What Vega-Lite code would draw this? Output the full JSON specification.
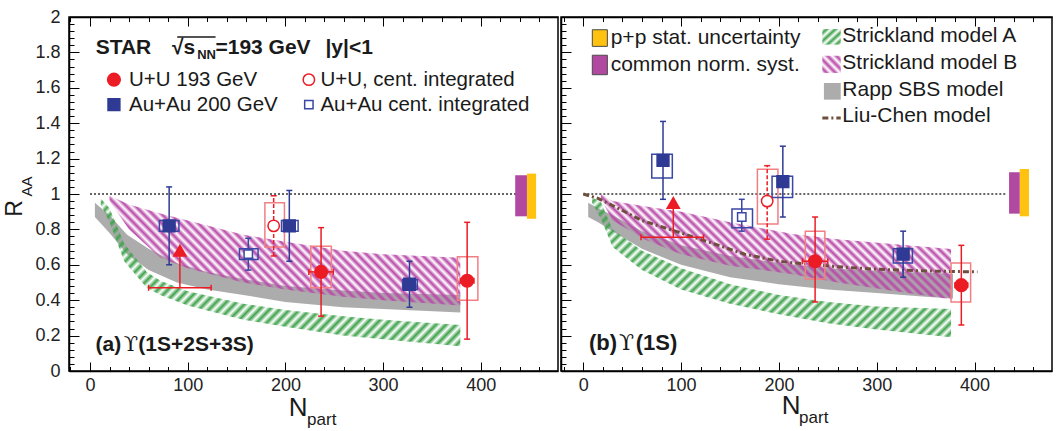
{
"$schema": "https://vega.github.io/schema/vega-lite/v6.json",
"padding": {"left": 3, "top": 7, "right": 0, "bottom": 0},
"spacing": 0,
"config": {
 "font": "Liberation Sans",
 "view": {"stroke": "#000", "strokeWidth": 1.5},
 "axis": {"domainColor": "#000", "domainWidth": 1.5, "tickColor": "#000", "tickWidth": 1, "labelFontSize": 18, "labelColor": "#222", "grid": false, "labelFont": "Liberation Sans", "title": null}
},
"datasets": {
 "bands": [
  {"panel":"a","model":"rapp","x":5,"lo":0.87,"hi":0.95},{"panel":"a","model":"rapp","x":20,"lo":0.78,"hi":0.88},{"panel":"a","model":"rapp","x":38,"lo":0.66,"hi":0.77},{"panel":"a","model":"rapp","x":60,"lo":0.57,"hi":0.69},{"panel":"a","model":"rapp","x":89,"lo":0.5,"hi":0.61},{"panel":"a","model":"rapp","x":120,"lo":0.46,"hi":0.56},{"panel":"a","model":"rapp","x":157,"lo":0.43,"hi":0.52},{"panel":"a","model":"rapp","x":200,"lo":0.39,"hi":0.48},{"panel":"a","model":"rapp","x":259,"lo":0.36,"hi":0.455},{"panel":"a","model":"rapp","x":300,"lo":0.35,"hi":0.44},{"panel":"a","model":"rapp","x":379,"lo":0.33,"hi":0.43},
  {"panel":"a","model":"A","x":11,"lo":0.94,"hi":0.975},{"panel":"a","model":"A","x":20,"lo":0.84,"hi":0.92},{"panel":"a","model":"A","x":35,"lo":0.62,"hi":0.72},{"panel":"a","model":"A","x":58,"lo":0.47,"hi":0.56},{"panel":"a","model":"A","x":72,"lo":0.43,"hi":0.51},{"panel":"a","model":"A","x":100,"lo":0.37,"hi":0.45},{"panel":"a","model":"A","x":157,"lo":0.29,"hi":0.38},{"panel":"a","model":"A","x":200,"lo":0.25,"hi":0.345},{"panel":"a","model":"A","x":259,"lo":0.2,"hi":0.31},{"panel":"a","model":"A","x":300,"lo":0.18,"hi":0.29},{"panel":"a","model":"A","x":379,"lo":0.14,"hi":0.26},
  {"panel":"a","model":"B","x":20,"lo":0.96,"hi":0.99},{"panel":"a","model":"B","x":40,"lo":0.8,"hi":0.94},{"panel":"a","model":"B","x":72,"lo":0.64,"hi":0.89},{"panel":"a","model":"B","x":100,"lo":0.58,"hi":0.85},{"panel":"a","model":"B","x":157,"lo":0.5,"hi":0.77},{"panel":"a","model":"B","x":200,"lo":0.46,"hi":0.73},{"panel":"a","model":"B","x":259,"lo":0.42,"hi":0.68},{"panel":"a","model":"B","x":300,"lo":0.4,"hi":0.66},{"panel":"a","model":"B","x":379,"lo":0.37,"hi":0.64},
  {"panel":"b","model":"rapp","x":5,"lo":0.87,"hi":0.95},{"panel":"b","model":"rapp","x":15,"lo":0.84,"hi":0.92},{"panel":"b","model":"rapp","x":30,"lo":0.79,"hi":0.88},{"panel":"b","model":"rapp","x":60,"lo":0.69,"hi":0.79},{"panel":"b","model":"rapp","x":100,"lo":0.6,"hi":0.71},{"panel":"b","model":"rapp","x":150,"lo":0.53,"hi":0.65},{"panel":"b","model":"rapp","x":200,"lo":0.49,"hi":0.61},{"panel":"b","model":"rapp","x":250,"lo":0.46,"hi":0.58},{"panel":"b","model":"rapp","x":300,"lo":0.44,"hi":0.565},{"panel":"b","model":"rapp","x":350,"lo":0.42,"hi":0.555},{"panel":"b","model":"rapp","x":378,"lo":0.41,"hi":0.55},
  {"panel":"b","model":"A","x":9,"lo":0.95,"hi":0.98},{"panel":"b","model":"A","x":18,"lo":0.86,"hi":0.955},{"panel":"b","model":"A","x":30,"lo":0.7,"hi":0.8},{"panel":"b","model":"A","x":60,"lo":0.57,"hi":0.68},{"panel":"b","model":"A","x":100,"lo":0.46,"hi":0.58},{"panel":"b","model":"A","x":150,"lo":0.38,"hi":0.49},{"panel":"b","model":"A","x":200,"lo":0.32,"hi":0.43},{"panel":"b","model":"A","x":250,"lo":0.27,"hi":0.39},{"panel":"b","model":"A","x":300,"lo":0.235,"hi":0.365},{"panel":"b","model":"A","x":376,"lo":0.19,"hi":0.35},
  {"panel":"b","model":"B","x":18,"lo":0.97,"hi":1.0},{"panel":"b","model":"B","x":30,"lo":0.85,"hi":0.96},{"panel":"b","model":"B","x":64,"lo":0.74,"hi":0.93},{"panel":"b","model":"B","x":100,"lo":0.66,"hi":0.9},{"panel":"b","model":"B","x":150,"lo":0.595,"hi":0.84},{"panel":"b","model":"B","x":214,"lo":0.547,"hi":0.774},{"panel":"b","model":"B","x":260,"lo":0.5,"hi":0.745},{"panel":"b","model":"B","x":316,"lo":0.453,"hi":0.717},{"panel":"b","model":"B","x":376,"lo":0.406,"hi":0.689}
 ],
 "lc": [
  {"x":0,"y":1.0},{"x":15,"y":0.975},{"x":30,"y":0.935},{"x":60,"y":0.85},{"x":100,"y":0.78},{"x":130,"y":0.725},{"x":165,"y":0.66},{"x":200,"y":0.62},{"x":235,"y":0.6},{"x":270,"y":0.585},{"x":300,"y":0.575},{"x":350,"y":0.565},{"x":403,"y":0.56}
 ],
 "ones": [{"panel":"a","x":0,"x2":436,"y":1},{"panel":"b","x":0,"x2":432,"y":1}],
 "ovl": [{"x":89.3,"x2":128.5,"y":1.887}],
 "norm": [
  {"panel":"a","kind":"pp","x1":447.2,"x2":456.6,"y1":0.86,"y2":1.115},
  {"panel":"a","kind":"norm","x1":435.2,"x2":447.2,"y1":0.874,"y2":1.106},
  {"panel":"b","kind":"pp","x1":446.2,"x2":455.7,"y1":0.874,"y2":1.141},
  {"panel":"b","kind":"norm","x1":435.3,"x2":446.2,"y1":0.889,"y2":1.123},
  {"panel":"b","kind":"pp","leg":1,"x1":9.2,"x2":24.6,"y1":1.834,"y2":1.928},
  {"panel":"b","kind":"norm","leg":1,"x1":9.2,"x2":24.6,"y1":1.674,"y2":1.784}
 ],
 "icons": [
  {"m":"A","x1":244.4,"x2":263.2,"y1":1.844,"y2":1.932},
  {"m":"B","x1":244.4,"x2":263.2,"y1":1.684,"y2":1.781},
  {"m":"rapp","x1":246,"x2":263.2,"y1":1.533,"y2":1.627},
  {"m":"lc","x1":244.4,"x2":263.2,"y1":1.429,"y2":1.429}
 ],
 "pts": [
  {"panel":"a","kind":"AuAu","x":81,"y":0.82,"ylo":0.6,"yhi":1.04,"bx1":71,"bx2":91,"by1":0.79,"by2":0.85},
  {"panel":"a","kind":"AuAu","x":204,"y":0.82,"ylo":0.62,"yhi":1.02,"bx1":196,"bx2":213,"by1":0.79,"by2":0.85},
  {"panel":"a","kind":"AuAu","x":327,"y":0.49,"ylo":0.36,"yhi":0.62,"bx1":320,"bx2":335,"by1":0.46,"by2":0.515},
  {"panel":"a","kind":"AuAuint","x":162,"y":0.66,"ylo":0.57,"yhi":0.75,"bx1":153,"bx2":172,"by1":0.63,"by2":0.69},
  {"panel":"a","kind":"UUint","x":188,"y":0.82,"ylo":0.65,"yhi":0.99,"bx1":179,"bx2":199,"by1":0.7,"by2":0.95},
  {"panel":"a","kind":"UU","x":236.5,"y":0.56,"ylo":0.31,"yhi":0.81,"bx1":226,"bx2":247,"by1":0.47,"by2":0.705,"xlo":224,"xhi":249,"hy":0.56},
  {"panel":"a","kind":"UU","x":386,"y":0.51,"ylo":0.18,"yhi":0.84,"bx1":376,"bx2":397,"by1":0.4,"by2":0.645,"xlo":379,"xhi":393,"hy":0.51},
  {"panel":"a","kind":"lim","x":92,"y":0.68,"ylo":0.47,"yhi":0.66,"xlo":60,"xhi":124,"hy":0.47},
  {"panel":"a","kind":"UU","x":24.5,"y":1.646},
  {"panel":"a","kind":"AuAu","x":24.5,"y":1.505},
  {"panel":"a","kind":"UUint","x":224,"y":1.646},
  {"panel":"a","kind":"AuAuint","x":224,"y":1.505},
  {"panel":"b","kind":"AuAu","x":81.5,"y":1.19,"ylo":0.97,"yhi":1.41,"bx1":70,"bx2":91,"by1":1.09,"by2":1.225},
  {"panel":"b","kind":"AuAu","x":204,"y":1.07,"ylo":0.87,"yhi":1.27,"bx1":193,"bx2":214,"by1":0.98,"by2":1.1},
  {"panel":"b","kind":"AuAu","x":327,"y":0.66,"ylo":0.53,"yhi":0.79,"bx1":317,"bx2":336.5,"by1":0.61,"by2":0.69},
  {"panel":"b","kind":"AuAuint","x":162,"y":0.87,"ylo":0.79,"yhi":0.97,"bx1":152,"bx2":173,"by1":0.81,"by2":0.915},
  {"panel":"b","kind":"UUint","x":188,"y":0.96,"ylo":0.745,"yhi":1.16,"bx1":178,"bx2":199,"by1":0.83,"by2":1.14},
  {"panel":"b","kind":"UU","x":237,"y":0.62,"ylo":0.39,"yhi":0.87,"bx1":227,"bx2":247,"by1":0.52,"by2":0.79,"xlo":224,"xhi":250,"hy":0.62},
  {"panel":"b","kind":"UU","x":386.5,"y":0.485,"ylo":0.26,"yhi":0.71,"bx1":376,"bx2":396,"by1":0.39,"by2":0.61,"xlo":380,"xhi":393,"hy":0.485},
  {"panel":"b","kind":"lim","x":92,"y":0.95,"ylo":0.755,"yhi":0.93,"xlo":59,"xhi":123,"hy":0.755}
 ],
 "txt": [
  {"panel":"a","role":"head","x":5.8,"y":1.825,"t":"STAR"},
  {"panel":"a","role":"head","x":84,"y":1.825,"t":"√s"},
  {"panel":"a","role":"sub","x":109.7,"y":1.787,"t":"NN"},
  {"panel":"a","role":"head","x":128.4,"y":1.825,"t":"=193 GeV"},
  {"panel":"a","role":"head","x":241,"y":1.825,"t":"|y|<1"},
  {"panel":"a","role":"lab","x":5.6,"y":0.145,"t":"(a)"},
  {"panel":"a","role":"lab","x":49.4,"y":0.145,"t":"(1S+2S+3S)"},
  {"panel":"a","role":"ups","x":34.5,"y":0.145,"t":"ϒ"},
  {"panel":"a","role":"leg","x":39.9,"y":1.646,"t":"U+U 193 GeV"},
  {"panel":"a","role":"leg","x":39.9,"y":1.505,"t":"Au+Au 200 GeV"},
  {"panel":"a","role":"leg","x":235.8,"y":1.646,"t":"U+U, cent. integrated"},
  {"panel":"a","role":"leg","x":235.8,"y":1.505,"t":"Au+Au cent. integrated"},
  {"panel":"a","role":"ax","x":203.5,"y":-0.21,"t":"N"},
  {"panel":"a","role":"axsub","x":222.2,"y":-0.275,"t":"part"},
  {"panel":"a","role":"R","x":-76.9,"y":0.918,"t":"R"},
  {"panel":"a","role":"Rsub","x":-64.1,"y":1.042,"t":"AA"},
  {"panel":"b","role":"lab","x":5.8,"y":0.158,"t":"(b)"},
  {"panel":"b","role":"lab","x":53.6,"y":0.158,"t":"(1S)"},
  {"panel":"b","role":"ups","x":36.5,"y":0.158,"t":"ϒ"},
  {"panel":"b","role":"leg","x":28,"y":1.881,"t":"p+p stat. uncertainty"},
  {"panel":"b","role":"leg","x":28,"y":1.731,"t":"common norm. syst."},
  {"panel":"b","role":"leg","x":264.8,"y":1.891,"t":"Strickland model A"},
  {"panel":"b","role":"leg","x":264.8,"y":1.74,"t":"Strickland model B"},
  {"panel":"b","role":"leg","x":264.8,"y":1.586,"t":"Rapp SBS model"},
  {"panel":"b","role":"leg","x":264.8,"y":1.439,"t":"Liu-Chen model"},
  {"panel":"b","role":"ax","x":202.9,"y":-0.2,"t":"N"},
  {"panel":"b","role":"axsub","x":220.6,"y":-0.268,"t":"part"}
 ]
},
"hconcat": [
 {
  "width": 489, "height": 354,
  "resolve": {"axis": {"x": "independent", "y": "independent"}, "scale": {"size": "independent"}},
  "layer": [
   {"data": {"name": "bands"}, "transform": [{"filter": "datum.panel==='a' && datum.model==='rapp'"}],
    "mark": {"type": "area", "fill": "#9e9e9e", "opacity": 0.85},
    "encoding": {
     "x": {"field": "x", "type": "quantitative", "scale": {"domain": [-21.5, 479], "nice": false, "zero": false},
       "axis": {"orient": "bottom", "values": [0,100,200,300,400], "tickSize": -9, "format": "d", "labelPadding": 14, "labelOverlap": false, "labelFlush": false}},
     "y": {"field": "lo", "type": "quantitative", "scale": {"domain": [0, 2], "nice": false, "zero": false},
       "axis": {"orient": "left", "values": [0,0.2,0.4,0.6,0.8,1,1.2,1.4,1.6,1.8,2], "tickSize": -10, "format": "~g", "labelPadding": 19, "labelOverlap": false, "labelFlush": false}},
     "y2": {"field": "hi"}}},
   {"data": {"name": "bands"}, "transform": [{"filter": "datum.panel==='a' && datum.model==='A'"}],
    "mark": {"type": "area", "fill": {"gradient": "linear", "x1": 0, "y1": 0, "x2": 1.2068, "y2": 0.4827, "stops": [
{"offset":0,"color":"#3fa24c00"},{"offset":0.01,"color":"#3fa24c"},{"offset":0.02,"color":"#3fa24c00"},{"offset":0.03,"color":"#3fa24c"},{"offset":0.04,"color":"#3fa24c00"},{"offset":0.05,"color":"#3fa24c"},{"offset":0.06,"color":"#3fa24c00"},{"offset":0.07,"color":"#3fa24c"},{"offset":0.08,"color":"#3fa24c00"},{"offset":0.09,"color":"#3fa24c"},
{"offset":0.1,"color":"#3fa24c00"},{"offset":0.11,"color":"#3fa24c"},{"offset":0.12,"color":"#3fa24c00"},{"offset":0.13,"color":"#3fa24c"},{"offset":0.14,"color":"#3fa24c00"},{"offset":0.15,"color":"#3fa24c"},{"offset":0.16,"color":"#3fa24c00"},{"offset":0.17,"color":"#3fa24c"},{"offset":0.18,"color":"#3fa24c00"},{"offset":0.19,"color":"#3fa24c"},
{"offset":0.2,"color":"#3fa24c00"},{"offset":0.21,"color":"#3fa24c"},{"offset":0.22,"color":"#3fa24c00"},{"offset":0.23,"color":"#3fa24c"},{"offset":0.24,"color":"#3fa24c00"},{"offset":0.25,"color":"#3fa24c"},{"offset":0.26,"color":"#3fa24c00"},{"offset":0.27,"color":"#3fa24c"},{"offset":0.28,"color":"#3fa24c00"},{"offset":0.29,"color":"#3fa24c"},
{"offset":0.3,"color":"#3fa24c00"},{"offset":0.31,"color":"#3fa24c"},{"offset":0.32,"color":"#3fa24c00"},{"offset":0.33,"color":"#3fa24c"},{"offset":0.34,"color":"#3fa24c00"},{"offset":0.35,"color":"#3fa24c"},{"offset":0.36,"color":"#3fa24c00"},{"offset":0.37,"color":"#3fa24c"},{"offset":0.38,"color":"#3fa24c00"},{"offset":0.39,"color":"#3fa24c"},
{"offset":0.4,"color":"#3fa24c00"},{"offset":0.41,"color":"#3fa24c"},{"offset":0.42,"color":"#3fa24c00"},{"offset":0.43,"color":"#3fa24c"},{"offset":0.44,"color":"#3fa24c00"},{"offset":0.45,"color":"#3fa24c"},{"offset":0.46,"color":"#3fa24c00"},{"offset":0.47,"color":"#3fa24c"},{"offset":0.48,"color":"#3fa24c00"},{"offset":0.49,"color":"#3fa24c"},
{"offset":0.5,"color":"#3fa24c00"},{"offset":0.51,"color":"#3fa24c"},{"offset":0.52,"color":"#3fa24c00"},{"offset":0.53,"color":"#3fa24c"},{"offset":0.54,"color":"#3fa24c00"},{"offset":0.55,"color":"#3fa24c"},{"offset":0.56,"color":"#3fa24c00"},{"offset":0.57,"color":"#3fa24c"},{"offset":0.58,"color":"#3fa24c00"},{"offset":0.59,"color":"#3fa24c"},
{"offset":0.6,"color":"#3fa24c00"},{"offset":0.61,"color":"#3fa24c"},{"offset":0.62,"color":"#3fa24c00"},{"offset":0.63,"color":"#3fa24c"},{"offset":0.64,"color":"#3fa24c00"},{"offset":0.65,"color":"#3fa24c"},{"offset":0.66,"color":"#3fa24c00"},{"offset":0.67,"color":"#3fa24c"},{"offset":0.68,"color":"#3fa24c00"},{"offset":0.69,"color":"#3fa24c"},
{"offset":0.7,"color":"#3fa24c00"},{"offset":0.71,"color":"#3fa24c"},{"offset":0.72,"color":"#3fa24c00"},{"offset":0.73,"color":"#3fa24c"},{"offset":0.74,"color":"#3fa24c00"},{"offset":0.75,"color":"#3fa24c"},{"offset":0.76,"color":"#3fa24c00"},{"offset":0.77,"color":"#3fa24c"},{"offset":0.78,"color":"#3fa24c00"},{"offset":0.79,"color":"#3fa24c"},
{"offset":0.8,"color":"#3fa24c00"},{"offset":0.81,"color":"#3fa24c"},{"offset":0.82,"color":"#3fa24c00"},{"offset":0.83,"color":"#3fa24c"},{"offset":0.84,"color":"#3fa24c00"},{"offset":0.85,"color":"#3fa24c"},{"offset":0.86,"color":"#3fa24c00"},{"offset":0.87,"color":"#3fa24c"},{"offset":0.88,"color":"#3fa24c00"},{"offset":0.89,"color":"#3fa24c"},
{"offset":0.9,"color":"#3fa24c00"},{"offset":0.91,"color":"#3fa24c"},{"offset":0.92,"color":"#3fa24c00"},{"offset":0.93,"color":"#3fa24c"},{"offset":0.94,"color":"#3fa24c00"},{"offset":0.95,"color":"#3fa24c"},{"offset":0.96,"color":"#3fa24c00"},{"offset":0.97,"color":"#3fa24c"},{"offset":0.98,"color":"#3fa24c00"},{"offset":0.99,"color":"#3fa24c"},
{"offset":1,"color":"#3fa24c00"}]}},
    "encoding": {
     "x": {"field": "x", "type": "quantitative", "scale": {"domain": [-21.5, 479], "nice": false, "zero": false},
       "axis": {"orient": "top", "labels": false, "values": [0,100,200,300,400], "tickSize": -9}},
     "y": {"field": "lo", "type": "quantitative", "scale": {"domain": [0, 2], "nice": false, "zero": false},
       "axis": {"orient": "left", "labels": false, "domain": false, "values": [0.04,0.08,0.12,0.16,0.24,0.28,0.32,0.36,0.44,0.48,0.52,0.56,0.64,0.68,0.72,0.76,0.84,0.88,0.92,0.96,1.04,1.08,1.12,1.16,1.24,1.28,1.32,1.36,1.44,1.48,1.52,1.56,1.64,1.68,1.72,1.76,1.84,1.88,1.92,1.96], "tickSize": -5}},
     "y2": {"field": "hi"}}},
   {"data": {"name": "bands"}, "transform": [{"filter": "datum.panel==='a' && datum.model==='B'"}],
    "mark": {"type": "area", "fill": {"gradient": "linear", "x1": 0, "y1": 1, "x2": 1.1946, "y2": 0.6324, "stops": [
{"offset":0,"color":"#b848a800"},{"offset":0.01,"color":"#b848a8"},{"offset":0.02,"color":"#b848a800"},{"offset":0.03,"color":"#b848a8"},{"offset":0.04,"color":"#b848a800"},{"offset":0.05,"color":"#b848a8"},{"offset":0.06,"color":"#b848a800"},{"offset":0.07,"color":"#b848a8"},{"offset":0.08,"color":"#b848a800"},{"offset":0.09,"color":"#b848a8"},
{"offset":0.1,"color":"#b848a800"},{"offset":0.11,"color":"#b848a8"},{"offset":0.12,"color":"#b848a800"},{"offset":0.13,"color":"#b848a8"},{"offset":0.14,"color":"#b848a800"},{"offset":0.15,"color":"#b848a8"},{"offset":0.16,"color":"#b848a800"},{"offset":0.17,"color":"#b848a8"},{"offset":0.18,"color":"#b848a800"},{"offset":0.19,"color":"#b848a8"},
{"offset":0.2,"color":"#b848a800"},{"offset":0.21,"color":"#b848a8"},{"offset":0.22,"color":"#b848a800"},{"offset":0.23,"color":"#b848a8"},{"offset":0.24,"color":"#b848a800"},{"offset":0.25,"color":"#b848a8"},{"offset":0.26,"color":"#b848a800"},{"offset":0.27,"color":"#b848a8"},{"offset":0.28,"color":"#b848a800"},{"offset":0.29,"color":"#b848a8"},
{"offset":0.3,"color":"#b848a800"},{"offset":0.31,"color":"#b848a8"},{"offset":0.32,"color":"#b848a800"},{"offset":0.33,"color":"#b848a8"},{"offset":0.34,"color":"#b848a800"},{"offset":0.35,"color":"#b848a8"},{"offset":0.36,"color":"#b848a800"},{"offset":0.37,"color":"#b848a8"},{"offset":0.38,"color":"#b848a800"},{"offset":0.39,"color":"#b848a8"},
{"offset":0.4,"color":"#b848a800"},{"offset":0.41,"color":"#b848a8"},{"offset":0.42,"color":"#b848a800"},{"offset":0.43,"color":"#b848a8"},{"offset":0.44,"color":"#b848a800"},{"offset":0.45,"color":"#b848a8"},{"offset":0.46,"color":"#b848a800"},{"offset":0.47,"color":"#b848a8"},{"offset":0.48,"color":"#b848a800"},{"offset":0.49,"color":"#b848a8"},
{"offset":0.5,"color":"#b848a800"},{"offset":0.51,"color":"#b848a8"},{"offset":0.52,"color":"#b848a800"},{"offset":0.53,"color":"#b848a8"},{"offset":0.54,"color":"#b848a800"},{"offset":0.55,"color":"#b848a8"},{"offset":0.56,"color":"#b848a800"},{"offset":0.57,"color":"#b848a8"},{"offset":0.58,"color":"#b848a800"},{"offset":0.59,"color":"#b848a8"},
{"offset":0.6,"color":"#b848a800"},{"offset":0.61,"color":"#b848a8"},{"offset":0.62,"color":"#b848a800"},{"offset":0.63,"color":"#b848a8"},{"offset":0.64,"color":"#b848a800"},{"offset":0.65,"color":"#b848a8"},{"offset":0.66,"color":"#b848a800"},{"offset":0.67,"color":"#b848a8"},{"offset":0.68,"color":"#b848a800"},{"offset":0.69,"color":"#b848a8"},
{"offset":0.7,"color":"#b848a800"},{"offset":0.71,"color":"#b848a8"},{"offset":0.72,"color":"#b848a800"},{"offset":0.73,"color":"#b848a8"},{"offset":0.74,"color":"#b848a800"},{"offset":0.75,"color":"#b848a8"},{"offset":0.76,"color":"#b848a800"},{"offset":0.77,"color":"#b848a8"},{"offset":0.78,"color":"#b848a800"},{"offset":0.79,"color":"#b848a8"},
{"offset":0.8,"color":"#b848a800"},{"offset":0.81,"color":"#b848a8"},{"offset":0.82,"color":"#b848a800"},{"offset":0.83,"color":"#b848a8"},{"offset":0.84,"color":"#b848a800"},{"offset":0.85,"color":"#b848a8"},{"offset":0.86,"color":"#b848a800"},{"offset":0.87,"color":"#b848a8"},{"offset":0.88,"color":"#b848a800"},{"offset":0.89,"color":"#b848a8"},
{"offset":0.9,"color":"#b848a800"},{"offset":0.91,"color":"#b848a8"},{"offset":0.92,"color":"#b848a800"},{"offset":0.93,"color":"#b848a8"},{"offset":0.94,"color":"#b848a800"},{"offset":0.95,"color":"#b848a8"},{"offset":0.96,"color":"#b848a800"},{"offset":0.97,"color":"#b848a8"},{"offset":0.98,"color":"#b848a800"},{"offset":0.99,"color":"#b848a8"},
{"offset":1,"color":"#b848a800"}]}},
    "encoding": {
     "x": {"field": "x", "type": "quantitative", "scale": {"domain": [-21.5, 479], "nice": false, "zero": false},
       "axis": {"orient": "bottom", "labels": false, "domain": false, "values": [-20,20,40,60,80,120,140,160,180,220,240,260,280,320,340,360,380,420,440,460], "tickSize": -4.5}},
     "y": {"field": "lo", "type": "quantitative", "scale": {"domain": [0, 2], "nice": false, "zero": false}, "axis": null},
     "y2": {"field": "hi"}}},
   {"data": {"name": "ones"}, "transform": [{"filter": "datum.panel==='a'"}],
    "mark": {"type": "rule", "color": "#333", "strokeDash": [2, 2], "strokeWidth": 1.3},
    "encoding": {
     "x": {"field": "x", "type": "quantitative", "scale": {"domain": [-21.5, 479], "nice": false, "zero": false},
       "axis": {"orient": "top", "labels": false, "domain": false, "values": [-20,20,40,60,80,120,140,160,180,220,240,260,280,320,340,360,380,420,440,460], "tickSize": -4.5}},
     "x2": {"field": "x2"},
     "y": {"field": "y", "type": "quantitative", "scale": {"domain": [0, 2], "nice": false, "zero": false}, "axis": null}}},
   {"data": {"name": "norm"}, "transform": [{"filter": "datum.panel==='a' && datum.kind==='pp'"}],
    "mark": {"type": "rect", "fill": "#fec20f"},
    "encoding": {
     "x": {"field": "x1", "type": "quantitative", "scale": {"domain": [-21.5, 479], "nice": false, "zero": false}, "axis": null},
     "x2": {"field": "x2"},
     "y": {"field": "y1", "type": "quantitative", "scale": {"domain": [0, 2], "nice": false, "zero": false}, "axis": null},
     "y2": {"field": "y2"}}},
   {"data": {"name": "norm"}, "transform": [{"filter": "datum.panel==='a' && datum.kind==='norm'"}],
    "mark": {"type": "rect", "fill": "#b0499f"},
    "encoding": {
     "x": {"field": "x1", "type": "quantitative", "scale": {"domain": [-21.5, 479], "nice": false, "zero": false}, "axis": null},
     "x2": {"field": "x2"},
     "y": {"field": "y1", "type": "quantitative", "scale": {"domain": [0, 2], "nice": false, "zero": false}, "axis": null},
     "y2": {"field": "y2"}}},
   {"data": {"name": "pts"}, "transform": [{"filter": "datum.panel==='a' && isValid(datum.bx1) && (datum.kind==='UU' || datum.kind==='UUint')"}],
    "mark": {"type": "rect", "filled": false, "color": "#f27f84", "strokeWidth": 1.5},
    "encoding": {
     "x": {"field": "bx1", "type": "quantitative", "scale": {"domain": [-21.5, 479], "nice": false, "zero": false}, "axis": null},
     "x2": {"field": "bx2"},
     "y": {"field": "by1", "type": "quantitative", "scale": {"domain": [0, 2], "nice": false, "zero": false}, "axis": null},
     "y2": {"field": "by2"}}},
   {"data": {"name": "pts"}, "transform": [{"filter": "datum.panel==='a' && isValid(datum.bx1) && (datum.kind==='AuAu' || datum.kind==='AuAuint')"}],
    "mark": {"type": "rect", "filled": false, "color": "#3947a5", "strokeWidth": 1.5},
    "encoding": {
     "x": {"field": "bx1", "type": "quantitative", "scale": {"domain": [-21.5, 479], "nice": false, "zero": false}, "axis": null},
     "x2": {"field": "bx2"},
     "y": {"field": "by1", "type": "quantitative", "scale": {"domain": [0, 2], "nice": false, "zero": false}, "axis": null},
     "y2": {"field": "by2"}}},
   {"data": {"name": "pts"}, "transform": [{"filter": "datum.panel==='a' && isValid(datum.ylo) && datum.kind!=='UUint'"}],
    "mark": {"type": "rule", "strokeWidth": 1.5},
    "encoding": {
     "x": {"field": "x", "type": "quantitative", "scale": {"domain": [-21.5, 479], "nice": false, "zero": false}, "axis": null},
     "y": {"field": "ylo", "type": "quantitative", "scale": {"domain": [0, 2], "nice": false, "zero": false}, "axis": null},
     "y2": {"field": "yhi"},
     "color": {"field": "kind", "type": "nominal", "scale": {"domain": ["UU","AuAu","UUint","AuAuint","lim"], "range": ["#ec1c24","#2e3a94","#ec1c24","#3947a5","#ec1c24"]}, "legend": null}}},
   {"data": {"name": "pts"}, "transform": [{"filter": "datum.panel==='a' && isValid(datum.ylo) && datum.kind==='UUint'"}],
    "mark": {"type": "rule", "strokeWidth": 1.5, "color": "#ec1c24", "strokeDash": [4, 2]},
    "encoding": {
     "x": {"field": "x", "type": "quantitative", "scale": {"domain": [-21.5, 479], "nice": false, "zero": false}, "axis": null},
     "y": {"field": "ylo", "type": "quantitative", "scale": {"domain": [0, 2], "nice": false, "zero": false}, "axis": null},
     "y2": {"field": "yhi"}}},
   {"data": {"name": "pts"}, "transform": [{"filter": "datum.panel==='a' && isValid(datum.ylo) && datum.kind!=='lim'"}],
    "mark": {"type": "tick", "orient": "horizontal", "size": 6, "thickness": 1.5, "opacity": 1},
    "encoding": {
     "x": {"field": "x", "type": "quantitative", "scale": {"domain": [-21.5, 479], "nice": false, "zero": false}, "axis": null},
     "y": {"field": "ylo", "type": "quantitative", "scale": {"domain": [0, 2], "nice": false, "zero": false}, "axis": null},
     "color": {"field": "kind", "type": "nominal", "scale": {"domain": ["UU","AuAu","UUint","AuAuint","lim"], "range": ["#ec1c24","#2e3a94","#ec1c24","#3947a5","#ec1c24"]}, "legend": null}}},
   {"data": {"name": "pts"}, "transform": [{"filter": "datum.panel==='a' && isValid(datum.yhi) && datum.kind!=='lim'"}],
    "mark": {"type": "tick", "orient": "horizontal", "size": 6, "thickness": 1.5, "opacity": 1},
    "encoding": {
     "x": {"field": "x", "type": "quantitative", "scale": {"domain": [-21.5, 479], "nice": false, "zero": false}, "axis": null},
     "y": {"field": "yhi", "type": "quantitative", "scale": {"domain": [0, 2], "nice": false, "zero": false}, "axis": null},
     "color": {"field": "kind", "type": "nominal", "scale": {"domain": ["UU","AuAu","UUint","AuAuint","lim"], "range": ["#ec1c24","#2e3a94","#ec1c24","#3947a5","#ec1c24"]}, "legend": null}}},
   {"data": {"name": "pts"}, "transform": [{"filter": "datum.panel==='a' && isValid(datum.xlo)"}],
    "mark": {"type": "rule", "strokeWidth": 1.5},
    "encoding": {
     "x": {"field": "xlo", "type": "quantitative", "scale": {"domain": [-21.5, 479], "nice": false, "zero": false}, "axis": null},
     "x2": {"field": "xhi"},
     "y": {"field": "hy", "type": "quantitative", "scale": {"domain": [0, 2], "nice": false, "zero": false}, "axis": null},
     "color": {"field": "kind", "type": "nominal", "scale": {"domain": ["UU","AuAu","UUint","AuAuint","lim"], "range": ["#ec1c24","#2e3a94","#ec1c24","#3947a5","#ec1c24"]}, "legend": null}}},
   {"data": {"name": "pts"}, "transform": [{"filter": "datum.panel==='a' && isValid(datum.xlo)"}],
    "mark": {"type": "tick", "orient": "vertical", "size": 6, "thickness": 1.5, "opacity": 1},
    "encoding": {
     "x": {"field": "xlo", "type": "quantitative", "scale": {"domain": [-21.5, 479], "nice": false, "zero": false}, "axis": null},
     "y": {"field": "hy", "type": "quantitative", "scale": {"domain": [0, 2], "nice": false, "zero": false}, "axis": null},
     "color": {"field": "kind", "type": "nominal", "scale": {"domain": ["UU","AuAu","UUint","AuAuint","lim"], "range": ["#ec1c24","#2e3a94","#ec1c24","#3947a5","#ec1c24"]}, "legend": null}}},
   {"data": {"name": "pts"}, "transform": [{"filter": "datum.panel==='a' && isValid(datum.xhi)"}],
    "mark": {"type": "tick", "orient": "vertical", "size": 6, "thickness": 1.5, "opacity": 1},
    "encoding": {
     "x": {"field": "xhi", "type": "quantitative", "scale": {"domain": [-21.5, 479], "nice": false, "zero": false}, "axis": null},
     "y": {"field": "hy", "type": "quantitative", "scale": {"domain": [0, 2], "nice": false, "zero": false}, "axis": null},
     "color": {"field": "kind", "type": "nominal", "scale": {"domain": ["UU","AuAu","UUint","AuAuint","lim"], "range": ["#ec1c24","#2e3a94","#ec1c24","#3947a5","#ec1c24"]}, "legend": null}}},
   {"data": {"name": "pts"}, "transform": [{"filter": "datum.panel==='a'"}],
    "mark": {"type": "point", "strokeWidth": 1.5, "opacity": 1},
    "encoding": {
     "x": {"field": "x", "type": "quantitative", "scale": {"domain": [-21.5, 479], "nice": false, "zero": false}, "axis": null},
     "y": {"field": "y", "type": "quantitative", "scale": {"domain": [0, 2], "nice": false, "zero": false}, "axis": null},
     "shape": {"field": "kind", "type": "nominal", "scale": {"domain": ["UU","AuAu","UUint","AuAuint","lim"], "range": ["circle","square","circle","square","triangle-up"]}, "legend": null},
     "fill": {"field": "kind", "type": "nominal", "scale": {"domain": ["UU","AuAu","UUint","AuAuint","lim"], "range": ["#ec1c24","#2e3a94","#ffffff","#ffffff","#ec1c24"]}, "legend": null},
     "stroke": {"field": "kind", "type": "nominal", "scale": {"domain": ["UU","AuAu","UUint","AuAuint","lim"], "range": ["#ec1c24","#2e3a94","#ec1c24","#3947a5","#ec1c24"]}, "legend": null},
     "size": {"field": "kind", "type": "nominal", "scale": {"type": "ordinal", "domain": ["UU","AuAu","UUint","AuAuint","lim"], "range": [160,140,130,70,150]}, "legend": null}}},
   {"data": {"name": "ovl"},
    "mark": {"type": "rule", "color": "#1a1a1a", "strokeWidth": 1.5},
    "encoding": {
     "x": {"field": "x", "type": "quantitative", "scale": {"domain": [-21.5, 479], "nice": false, "zero": false}, "axis": null},
     "x2": {"field": "x2"},
     "y": {"field": "y", "type": "quantitative", "scale": {"domain": [0, 2], "nice": false, "zero": false}, "axis": null}}},
   {"data": {"name": "txt"}, "transform": [{"filter": "datum.panel==='a' && (datum.role==='head' || datum.role==='sub' || datum.role==='lab')"}],
    "mark": {"type": "text", "fontWeight": "bold", "align": "left", "baseline": "middle", "color": "#1a1a1a"},
    "encoding": {
     "x": {"field": "x", "type": "quantitative", "scale": {"domain": [-21.5, 479], "nice": false, "zero": false}, "axis": null},
     "y": {"field": "y", "type": "quantitative", "scale": {"domain": [0, 2], "nice": false, "zero": false}, "axis": null},
     "text": {"field": "t"},
     "size": {"field": "role", "type": "nominal", "scale": {"type": "ordinal", "domain": ["head","sub","lab"], "range": [21,13,21]}, "legend": null}}},
   {"data": {"name": "txt"}, "transform": [{"filter": "datum.panel==='a' && datum.role==='ups'"}],
    "mark": {"type": "text", "font": "DejaVu Serif", "fontSize": 21, "align": "left", "baseline": "middle", "color": "#1a1a1a"},
    "encoding": {
     "x": {"field": "x", "type": "quantitative", "scale": {"domain": [-21.5, 479], "nice": false, "zero": false}, "axis": null},
     "y": {"field": "y", "type": "quantitative", "scale": {"domain": [0, 2], "nice": false, "zero": false}, "axis": null},
     "text": {"field": "t"}}},
   {"data": {"name": "txt"}, "transform": [{"filter": "datum.panel==='a' && (datum.role==='leg' || datum.role==='ax' || datum.role==='axsub')"}],
    "mark": {"type": "text", "align": "left", "baseline": "middle", "color": "#1a1a1a"},
    "encoding": {
     "x": {"field": "x", "type": "quantitative", "scale": {"domain": [-21.5, 479], "nice": false, "zero": false}, "axis": null},
     "y": {"field": "y", "type": "quantitative", "scale": {"domain": [0, 2], "nice": false, "zero": false}, "axis": null},
     "text": {"field": "t"},
     "size": {"field": "role", "type": "nominal", "scale": {"type": "ordinal", "domain": ["leg","ax","axsub"], "range": [20.5,26,17]}, "legend": null}}},
   {"data": {"name": "txt"}, "transform": [{"filter": "datum.panel==='a' && (datum.role==='R' || datum.role==='Rsub')"}],
    "mark": {"type": "text", "align": "center", "baseline": "middle", "angle": 270, "color": "#1a1a1a"},
    "encoding": {
     "x": {"field": "x", "type": "quantitative", "scale": {"domain": [-21.5, 479], "nice": false, "zero": false}, "axis": null},
     "y": {"field": "y", "type": "quantitative", "scale": {"domain": [0, 2], "nice": false, "zero": false}, "axis": null},
     "text": {"field": "t"},
     "size": {"field": "role", "type": "nominal", "scale": {"type": "ordinal", "domain": ["R","Rsub"], "range": [23,15]}, "legend": null}}}
  ]
 },
 {
  "width": 491, "height": 354,
  "resolve": {"axis": {"x": "independent", "y": "independent"}, "scale": {"size": "independent"}},
  "layer": [
   {"data": {"name": "bands"}, "transform": [{"filter": "datum.panel==='b' && datum.model==='rapp'"}],
    "mark": {"type": "area", "fill": "#9e9e9e", "opacity": 0.85},
    "encoding": {
     "x": {"field": "x", "type": "quantitative", "scale": {"domain": [-22.8, 479.2], "nice": false, "zero": false},
       "axis": {"orient": "bottom", "values": [0,100,200,300,400], "tickSize": -9, "format": "d", "labelPadding": 14, "labelOverlap": false, "labelFlush": false}},
     "y": {"field": "lo", "type": "quantitative", "scale": {"domain": [0, 2], "nice": false, "zero": false},
       "axis": {"orient": "left", "labels": false, "values": [0,0.2,0.4,0.6,0.8,1,1.2,1.4,1.6,1.8,2], "tickSize": -10}},
     "y2": {"field": "hi"}}},
   {"data": {"name": "bands"}, "transform": [{"filter": "datum.panel==='b' && datum.model==='A'"}],
    "mark": {"type": "area", "fill": {"gradient": "linear", "x1": 0, "y1": 0, "x2": 1.2068, "y2": 0.4827, "stops": [
{"offset":0,"color":"#3fa24c00"},{"offset":0.01,"color":"#3fa24c"},{"offset":0.02,"color":"#3fa24c00"},{"offset":0.03,"color":"#3fa24c"},{"offset":0.04,"color":"#3fa24c00"},{"offset":0.05,"color":"#3fa24c"},{"offset":0.06,"color":"#3fa24c00"},{"offset":0.07,"color":"#3fa24c"},{"offset":0.08,"color":"#3fa24c00"},{"offset":0.09,"color":"#3fa24c"},
{"offset":0.1,"color":"#3fa24c00"},{"offset":0.11,"color":"#3fa24c"},{"offset":0.12,"color":"#3fa24c00"},{"offset":0.13,"color":"#3fa24c"},{"offset":0.14,"color":"#3fa24c00"},{"offset":0.15,"color":"#3fa24c"},{"offset":0.16,"color":"#3fa24c00"},{"offset":0.17,"color":"#3fa24c"},{"offset":0.18,"color":"#3fa24c00"},{"offset":0.19,"color":"#3fa24c"},
{"offset":0.2,"color":"#3fa24c00"},{"offset":0.21,"color":"#3fa24c"},{"offset":0.22,"color":"#3fa24c00"},{"offset":0.23,"color":"#3fa24c"},{"offset":0.24,"color":"#3fa24c00"},{"offset":0.25,"color":"#3fa24c"},{"offset":0.26,"color":"#3fa24c00"},{"offset":0.27,"color":"#3fa24c"},{"offset":0.28,"color":"#3fa24c00"},{"offset":0.29,"color":"#3fa24c"},
{"offset":0.3,"color":"#3fa24c00"},{"offset":0.31,"color":"#3fa24c"},{"offset":0.32,"color":"#3fa24c00"},{"offset":0.33,"color":"#3fa24c"},{"offset":0.34,"color":"#3fa24c00"},{"offset":0.35,"color":"#3fa24c"},{"offset":0.36,"color":"#3fa24c00"},{"offset":0.37,"color":"#3fa24c"},{"offset":0.38,"color":"#3fa24c00"},{"offset":0.39,"color":"#3fa24c"},
{"offset":0.4,"color":"#3fa24c00"},{"offset":0.41,"color":"#3fa24c"},{"offset":0.42,"color":"#3fa24c00"},{"offset":0.43,"color":"#3fa24c"},{"offset":0.44,"color":"#3fa24c00"},{"offset":0.45,"color":"#3fa24c"},{"offset":0.46,"color":"#3fa24c00"},{"offset":0.47,"color":"#3fa24c"},{"offset":0.48,"color":"#3fa24c00"},{"offset":0.49,"color":"#3fa24c"},
{"offset":0.5,"color":"#3fa24c00"},{"offset":0.51,"color":"#3fa24c"},{"offset":0.52,"color":"#3fa24c00"},{"offset":0.53,"color":"#3fa24c"},{"offset":0.54,"color":"#3fa24c00"},{"offset":0.55,"color":"#3fa24c"},{"offset":0.56,"color":"#3fa24c00"},{"offset":0.57,"color":"#3fa24c"},{"offset":0.58,"color":"#3fa24c00"},{"offset":0.59,"color":"#3fa24c"},
{"offset":0.6,"color":"#3fa24c00"},{"offset":0.61,"color":"#3fa24c"},{"offset":0.62,"color":"#3fa24c00"},{"offset":0.63,"color":"#3fa24c"},{"offset":0.64,"color":"#3fa24c00"},{"offset":0.65,"color":"#3fa24c"},{"offset":0.66,"color":"#3fa24c00"},{"offset":0.67,"color":"#3fa24c"},{"offset":0.68,"color":"#3fa24c00"},{"offset":0.69,"color":"#3fa24c"},
{"offset":0.7,"color":"#3fa24c00"},{"offset":0.71,"color":"#3fa24c"},{"offset":0.72,"color":"#3fa24c00"},{"offset":0.73,"color":"#3fa24c"},{"offset":0.74,"color":"#3fa24c00"},{"offset":0.75,"color":"#3fa24c"},{"offset":0.76,"color":"#3fa24c00"},{"offset":0.77,"color":"#3fa24c"},{"offset":0.78,"color":"#3fa24c00"},{"offset":0.79,"color":"#3fa24c"},
{"offset":0.8,"color":"#3fa24c00"},{"offset":0.81,"color":"#3fa24c"},{"offset":0.82,"color":"#3fa24c00"},{"offset":0.83,"color":"#3fa24c"},{"offset":0.84,"color":"#3fa24c00"},{"offset":0.85,"color":"#3fa24c"},{"offset":0.86,"color":"#3fa24c00"},{"offset":0.87,"color":"#3fa24c"},{"offset":0.88,"color":"#3fa24c00"},{"offset":0.89,"color":"#3fa24c"},
{"offset":0.9,"color":"#3fa24c00"},{"offset":0.91,"color":"#3fa24c"},{"offset":0.92,"color":"#3fa24c00"},{"offset":0.93,"color":"#3fa24c"},{"offset":0.94,"color":"#3fa24c00"},{"offset":0.95,"color":"#3fa24c"},{"offset":0.96,"color":"#3fa24c00"},{"offset":0.97,"color":"#3fa24c"},{"offset":0.98,"color":"#3fa24c00"},{"offset":0.99,"color":"#3fa24c"},
{"offset":1,"color":"#3fa24c00"}]}},
    "encoding": {
     "x": {"field": "x", "type": "quantitative", "scale": {"domain": [-22.8, 479.2], "nice": false, "zero": false},
       "axis": {"orient": "top", "labels": false, "values": [0,100,200,300,400], "tickSize": -9}},
     "y": {"field": "lo", "type": "quantitative", "scale": {"domain": [0, 2], "nice": false, "zero": false},
       "axis": {"orient": "left", "labels": false, "domain": false, "values": [0.04,0.08,0.12,0.16,0.24,0.28,0.32,0.36,0.44,0.48,0.52,0.56,0.64,0.68,0.72,0.76,0.84,0.88,0.92,0.96,1.04,1.08,1.12,1.16,1.24,1.28,1.32,1.36,1.44,1.48,1.52,1.56,1.64,1.68,1.72,1.76,1.84,1.88,1.92,1.96], "tickSize": -5}},
     "y2": {"field": "hi"}}},
   {"data": {"name": "bands"}, "transform": [{"filter": "datum.panel==='b' && datum.model==='B'"}],
    "mark": {"type": "area", "fill": {"gradient": "linear", "x1": 0, "y1": 1, "x2": 1.1946, "y2": 0.6324, "stops": [
{"offset":0,"color":"#b848a800"},{"offset":0.01,"color":"#b848a8"},{"offset":0.02,"color":"#b848a800"},{"offset":0.03,"color":"#b848a8"},{"offset":0.04,"color":"#b848a800"},{"offset":0.05,"color":"#b848a8"},{"offset":0.06,"color":"#b848a800"},{"offset":0.07,"color":"#b848a8"},{"offset":0.08,"color":"#b848a800"},{"offset":0.09,"color":"#b848a8"},
{"offset":0.1,"color":"#b848a800"},{"offset":0.11,"color":"#b848a8"},{"offset":0.12,"color":"#b848a800"},{"offset":0.13,"color":"#b848a8"},{"offset":0.14,"color":"#b848a800"},{"offset":0.15,"color":"#b848a8"},{"offset":0.16,"color":"#b848a800"},{"offset":0.17,"color":"#b848a8"},{"offset":0.18,"color":"#b848a800"},{"offset":0.19,"color":"#b848a8"},
{"offset":0.2,"color":"#b848a800"},{"offset":0.21,"color":"#b848a8"},{"offset":0.22,"color":"#b848a800"},{"offset":0.23,"color":"#b848a8"},{"offset":0.24,"color":"#b848a800"},{"offset":0.25,"color":"#b848a8"},{"offset":0.26,"color":"#b848a800"},{"offset":0.27,"color":"#b848a8"},{"offset":0.28,"color":"#b848a800"},{"offset":0.29,"color":"#b848a8"},
{"offset":0.3,"color":"#b848a800"},{"offset":0.31,"color":"#b848a8"},{"offset":0.32,"color":"#b848a800"},{"offset":0.33,"color":"#b848a8"},{"offset":0.34,"color":"#b848a800"},{"offset":0.35,"color":"#b848a8"},{"offset":0.36,"color":"#b848a800"},{"offset":0.37,"color":"#b848a8"},{"offset":0.38,"color":"#b848a800"},{"offset":0.39,"color":"#b848a8"},
{"offset":0.4,"color":"#b848a800"},{"offset":0.41,"color":"#b848a8"},{"offset":0.42,"color":"#b848a800"},{"offset":0.43,"color":"#b848a8"},{"offset":0.44,"color":"#b848a800"},{"offset":0.45,"color":"#b848a8"},{"offset":0.46,"color":"#b848a800"},{"offset":0.47,"color":"#b848a8"},{"offset":0.48,"color":"#b848a800"},{"offset":0.49,"color":"#b848a8"},
{"offset":0.5,"color":"#b848a800"},{"offset":0.51,"color":"#b848a8"},{"offset":0.52,"color":"#b848a800"},{"offset":0.53,"color":"#b848a8"},{"offset":0.54,"color":"#b848a800"},{"offset":0.55,"color":"#b848a8"},{"offset":0.56,"color":"#b848a800"},{"offset":0.57,"color":"#b848a8"},{"offset":0.58,"color":"#b848a800"},{"offset":0.59,"color":"#b848a8"},
{"offset":0.6,"color":"#b848a800"},{"offset":0.61,"color":"#b848a8"},{"offset":0.62,"color":"#b848a800"},{"offset":0.63,"color":"#b848a8"},{"offset":0.64,"color":"#b848a800"},{"offset":0.65,"color":"#b848a8"},{"offset":0.66,"color":"#b848a800"},{"offset":0.67,"color":"#b848a8"},{"offset":0.68,"color":"#b848a800"},{"offset":0.69,"color":"#b848a8"},
{"offset":0.7,"color":"#b848a800"},{"offset":0.71,"color":"#b848a8"},{"offset":0.72,"color":"#b848a800"},{"offset":0.73,"color":"#b848a8"},{"offset":0.74,"color":"#b848a800"},{"offset":0.75,"color":"#b848a8"},{"offset":0.76,"color":"#b848a800"},{"offset":0.77,"color":"#b848a8"},{"offset":0.78,"color":"#b848a800"},{"offset":0.79,"color":"#b848a8"},
{"offset":0.8,"color":"#b848a800"},{"offset":0.81,"color":"#b848a8"},{"offset":0.82,"color":"#b848a800"},{"offset":0.83,"color":"#b848a8"},{"offset":0.84,"color":"#b848a800"},{"offset":0.85,"color":"#b848a8"},{"offset":0.86,"color":"#b848a800"},{"offset":0.87,"color":"#b848a8"},{"offset":0.88,"color":"#b848a800"},{"offset":0.89,"color":"#b848a8"},
{"offset":0.9,"color":"#b848a800"},{"offset":0.91,"color":"#b848a8"},{"offset":0.92,"color":"#b848a800"},{"offset":0.93,"color":"#b848a8"},{"offset":0.94,"color":"#b848a800"},{"offset":0.95,"color":"#b848a8"},{"offset":0.96,"color":"#b848a800"},{"offset":0.97,"color":"#b848a8"},{"offset":0.98,"color":"#b848a800"},{"offset":0.99,"color":"#b848a8"},
{"offset":1,"color":"#b848a800"}]}},
    "encoding": {
     "x": {"field": "x", "type": "quantitative", "scale": {"domain": [-22.8, 479.2], "nice": false, "zero": false},
       "axis": {"orient": "bottom", "labels": false, "domain": false, "values": [-20,20,40,60,80,120,140,160,180,220,240,260,280,320,340,360,380,420,440,460], "tickSize": -4.5}},
     "y": {"field": "lo", "type": "quantitative", "scale": {"domain": [0, 2], "nice": false, "zero": false}, "axis": null},
     "y2": {"field": "hi"}}},
   {"data": {"name": "ones"}, "transform": [{"filter": "datum.panel==='b'"}],
    "mark": {"type": "rule", "color": "#333", "strokeDash": [2, 2], "strokeWidth": 1.3},
    "encoding": {
     "x": {"field": "x", "type": "quantitative", "scale": {"domain": [-22.8, 479.2], "nice": false, "zero": false},
       "axis": {"orient": "top", "labels": false, "domain": false, "values": [-20,20,40,60,80,120,140,160,180,220,240,260,280,320,340,360,380,420,440,460], "tickSize": -4.5}},
     "x2": {"field": "x2"},
     "y": {"field": "y", "type": "quantitative", "scale": {"domain": [0, 2], "nice": false, "zero": false}, "axis": null}}},
   {"data": {"name": "lc"},
    "mark": {"type": "line", "color": "#6e4e3c", "strokeWidth": 3, "strokeDash": [6, 3, 2, 3]},
    "encoding": {
     "x": {"field": "x", "type": "quantitative", "scale": {"domain": [-22.8, 479.2], "nice": false, "zero": false}, "axis": null},
     "y": {"field": "y", "type": "quantitative", "scale": {"domain": [0, 2], "nice": false, "zero": false}, "axis": null}}},
   {"data": {"name": "norm"}, "transform": [{"filter": "datum.panel==='b' && datum.kind==='pp'"}],
    "mark": {"type": "rect", "fill": "#fec20f"},
    "encoding": {
     "x": {"field": "x1", "type": "quantitative", "scale": {"domain": [-22.8, 479.2], "nice": false, "zero": false}, "axis": null},
     "x2": {"field": "x2"},
     "y": {"field": "y1", "type": "quantitative", "scale": {"domain": [0, 2], "nice": false, "zero": false}, "axis": null},
     "y2": {"field": "y2"}}},
   {"data": {"name": "norm"}, "transform": [{"filter": "datum.panel==='b' && datum.kind==='norm'"}],
    "mark": {"type": "rect", "fill": "#b0499f"},
    "encoding": {
     "x": {"field": "x1", "type": "quantitative", "scale": {"domain": [-22.8, 479.2], "nice": false, "zero": false}, "axis": null},
     "x2": {"field": "x2"},
     "y": {"field": "y1", "type": "quantitative", "scale": {"domain": [0, 2], "nice": false, "zero": false}, "axis": null},
     "y2": {"field": "y2"}}},
   {"data": {"name": "norm"}, "transform": [{"filter": "datum.panel==='b' && datum.leg===1"}],
    "mark": {"type": "rect", "filled": false, "color": "#4a4a4a", "strokeWidth": 1},
    "encoding": {
     "x": {"field": "x1", "type": "quantitative", "scale": {"domain": [-22.8, 479.2], "nice": false, "zero": false}, "axis": null},
     "x2": {"field": "x2"},
     "y": {"field": "y1", "type": "quantitative", "scale": {"domain": [0, 2], "nice": false, "zero": false}, "axis": null},
     "y2": {"field": "y2"}}},
   {"data": {"name": "icons"}, "transform": [{"filter": "datum.m==='A'"}],
    "mark": {"type": "rect", "fill": {"gradient": "linear", "x1": 0, "y1": 0, "x2": 1.038, "y2": 0.959, "stops": [{"offset":0,"color":"#3fa24c00"},{"offset":0.125,"color":"#3fa24c"},{"offset":0.25,"color":"#3fa24c00"},{"offset":0.375,"color":"#3fa24c"},{"offset":0.5,"color":"#3fa24c00"},{"offset":0.625,"color":"#3fa24c"},{"offset":0.75,"color":"#3fa24c00"},{"offset":0.875,"color":"#3fa24c"},{"offset":1,"color":"#3fa24c00"}]}},
    "encoding": {
     "x": {"field": "x1", "type": "quantitative", "scale": {"domain": [-22.8, 479.2], "nice": false, "zero": false}, "axis": null},
     "x2": {"field": "x2"},
     "y": {"field": "y1", "type": "quantitative", "scale": {"domain": [0, 2], "nice": false, "zero": false}, "axis": null},
     "y2": {"field": "y2"}}},
   {"data": {"name": "icons"}, "transform": [{"filter": "datum.m==='B'"}],
    "mark": {"type": "rect", "fill": {"gradient": "linear", "x1": 0, "y1": 1, "x2": 1.038, "y2": 0.041, "stops": [{"offset":0,"color":"#b848a800"},{"offset":0.125,"color":"#b848a8"},{"offset":0.25,"color":"#b848a800"},{"offset":0.375,"color":"#b848a8"},{"offset":0.5,"color":"#b848a800"},{"offset":0.625,"color":"#b848a8"},{"offset":0.75,"color":"#b848a800"},{"offset":0.875,"color":"#b848a8"},{"offset":1,"color":"#b848a800"}]}},
    "encoding": {
     "x": {"field": "x1", "type": "quantitative", "scale": {"domain": [-22.8, 479.2], "nice": false, "zero": false}, "axis": null},
     "x2": {"field": "x2"},
     "y": {"field": "y1", "type": "quantitative", "scale": {"domain": [0, 2], "nice": false, "zero": false}, "axis": null},
     "y2": {"field": "y2"}}},
   {"data": {"name": "icons"}, "transform": [{"filter": "datum.m==='rapp'"}],
    "mark": {"type": "rect", "fill": "#9e9e9e", "opacity": 0.85},
    "encoding": {
     "x": {"field": "x1", "type": "quantitative", "scale": {"domain": [-22.8, 479.2], "nice": false, "zero": false}, "axis": null},
     "x2": {"field": "x2"},
     "y": {"field": "y1", "type": "quantitative", "scale": {"domain": [0, 2], "nice": false, "zero": false}, "axis": null},
     "y2": {"field": "y2"}}},
   {"data": {"name": "icons"}, "transform": [{"filter": "datum.m==='lc'"}],
    "mark": {"type": "rule", "color": "#6e4e3c", "strokeWidth": 3, "strokeDash": [6, 3, 2, 3]},
    "encoding": {
     "x": {"field": "x1", "type": "quantitative", "scale": {"domain": [-22.8, 479.2], "nice": false, "zero": false}, "axis": null},
     "x2": {"field": "x2"},
     "y": {"field": "y1", "type": "quantitative", "scale": {"domain": [0, 2], "nice": false, "zero": false}, "axis": null}}},
   {"data": {"name": "pts"}, "transform": [{"filter": "datum.panel==='b' && isValid(datum.bx1) && (datum.kind==='UU' || datum.kind==='UUint')"}],
    "mark": {"type": "rect", "filled": false, "color": "#f27f84", "strokeWidth": 1.5},
    "encoding": {
     "x": {"field": "bx1", "type": "quantitative", "scale": {"domain": [-22.8, 479.2], "nice": false, "zero": false}, "axis": null},
     "x2": {"field": "bx2"},
     "y": {"field": "by1", "type": "quantitative", "scale": {"domain": [0, 2], "nice": false, "zero": false}, "axis": null},
     "y2": {"field": "by2"}}},
   {"data": {"name": "pts"}, "transform": [{"filter": "datum.panel==='b' && isValid(datum.bx1) && (datum.kind==='AuAu' || datum.kind==='AuAuint')"}],
    "mark": {"type": "rect", "filled": false, "color": "#3947a5", "strokeWidth": 1.5},
    "encoding": {
     "x": {"field": "bx1", "type": "quantitative", "scale": {"domain": [-22.8, 479.2], "nice": false, "zero": false}, "axis": null},
     "x2": {"field": "bx2"},
     "y": {"field": "by1", "type": "quantitative", "scale": {"domain": [0, 2], "nice": false, "zero": false}, "axis": null},
     "y2": {"field": "by2"}}},
   {"data": {"name": "pts"}, "transform": [{"filter": "datum.panel==='b' && isValid(datum.ylo) && datum.kind!=='UUint'"}],
    "mark": {"type": "rule", "strokeWidth": 1.5},
    "encoding": {
     "x": {"field": "x", "type": "quantitative", "scale": {"domain": [-22.8, 479.2], "nice": false, "zero": false}, "axis": null},
     "y": {"field": "ylo", "type": "quantitative", "scale": {"domain": [0, 2], "nice": false, "zero": false}, "axis": null},
     "y2": {"field": "yhi"},
     "color": {"field": "kind", "type": "nominal", "scale": {"domain": ["UU","AuAu","UUint","AuAuint","lim"], "range": ["#ec1c24","#2e3a94","#ec1c24","#3947a5","#ec1c24"]}, "legend": null}}},
   {"data": {"name": "pts"}, "transform": [{"filter": "datum.panel==='b' && isValid(datum.ylo) && datum.kind==='UUint'"}],
    "mark": {"type": "rule", "strokeWidth": 1.5, "color": "#ec1c24", "strokeDash": [4, 2]},
    "encoding": {
     "x": {"field": "x", "type": "quantitative", "scale": {"domain": [-22.8, 479.2], "nice": false, "zero": false}, "axis": null},
     "y": {"field": "ylo", "type": "quantitative", "scale": {"domain": [0, 2], "nice": false, "zero": false}, "axis": null},
     "y2": {"field": "yhi"}}},
   {"data": {"name": "pts"}, "transform": [{"filter": "datum.panel==='b' && isValid(datum.ylo) && datum.kind!=='lim'"}],
    "mark": {"type": "tick", "orient": "horizontal", "size": 6, "thickness": 1.5, "opacity": 1},
    "encoding": {
     "x": {"field": "x", "type": "quantitative", "scale": {"domain": [-22.8, 479.2], "nice": false, "zero": false}, "axis": null},
     "y": {"field": "ylo", "type": "quantitative", "scale": {"domain": [0, 2], "nice": false, "zero": false}, "axis": null},
     "color": {"field": "kind", "type": "nominal", "scale": {"domain": ["UU","AuAu","UUint","AuAuint","lim"], "range": ["#ec1c24","#2e3a94","#ec1c24","#3947a5","#ec1c24"]}, "legend": null}}},
   {"data": {"name": "pts"}, "transform": [{"filter": "datum.panel==='b' && isValid(datum.yhi) && datum.kind!=='lim'"}],
    "mark": {"type": "tick", "orient": "horizontal", "size": 6, "thickness": 1.5, "opacity": 1},
    "encoding": {
     "x": {"field": "x", "type": "quantitative", "scale": {"domain": [-22.8, 479.2], "nice": false, "zero": false}, "axis": null},
     "y": {"field": "yhi", "type": "quantitative", "scale": {"domain": [0, 2], "nice": false, "zero": false}, "axis": null},
     "color": {"field": "kind", "type": "nominal", "scale": {"domain": ["UU","AuAu","UUint","AuAuint","lim"], "range": ["#ec1c24","#2e3a94","#ec1c24","#3947a5","#ec1c24"]}, "legend": null}}},
   {"data": {"name": "pts"}, "transform": [{"filter": "datum.panel==='b' && isValid(datum.xlo)"}],
    "mark": {"type": "rule", "strokeWidth": 1.5},
    "encoding": {
     "x": {"field": "xlo", "type": "quantitative", "scale": {"domain": [-22.8, 479.2], "nice": false, "zero": false}, "axis": null},
     "x2": {"field": "xhi"},
     "y": {"field": "hy", "type": "quantitative", "scale": {"domain": [0, 2], "nice": false, "zero": false}, "axis": null},
     "color": {"field": "kind", "type": "nominal", "scale": {"domain": ["UU","AuAu","UUint","AuAuint","lim"], "range": ["#ec1c24","#2e3a94","#ec1c24","#3947a5","#ec1c24"]}, "legend": null}}},
   {"data": {"name": "pts"}, "transform": [{"filter": "datum.panel==='b' && isValid(datum.xlo)"}],
    "mark": {"type": "tick", "orient": "vertical", "size": 6, "thickness": 1.5, "opacity": 1},
    "encoding": {
     "x": {"field": "xlo", "type": "quantitative", "scale": {"domain": [-22.8, 479.2], "nice": false, "zero": false}, "axis": null},
     "y": {"field": "hy", "type": "quantitative", "scale": {"domain": [0, 2], "nice": false, "zero": false}, "axis": null},
     "color": {"field": "kind", "type": "nominal", "scale": {"domain": ["UU","AuAu","UUint","AuAuint","lim"], "range": ["#ec1c24","#2e3a94","#ec1c24","#3947a5","#ec1c24"]}, "legend": null}}},
   {"data": {"name": "pts"}, "transform": [{"filter": "datum.panel==='b' && isValid(datum.xhi)"}],
    "mark": {"type": "tick", "orient": "vertical", "size": 6, "thickness": 1.5, "opacity": 1},
    "encoding": {
     "x": {"field": "xhi", "type": "quantitative", "scale": {"domain": [-22.8, 479.2], "nice": false, "zero": false}, "axis": null},
     "y": {"field": "hy", "type": "quantitative", "scale": {"domain": [0, 2], "nice": false, "zero": false}, "axis": null},
     "color": {"field": "kind", "type": "nominal", "scale": {"domain": ["UU","AuAu","UUint","AuAuint","lim"], "range": ["#ec1c24","#2e3a94","#ec1c24","#3947a5","#ec1c24"]}, "legend": null}}},
   {"data": {"name": "pts"}, "transform": [{"filter": "datum.panel==='b'"}],
    "mark": {"type": "point", "strokeWidth": 1.5, "opacity": 1},
    "encoding": {
     "x": {"field": "x", "type": "quantitative", "scale": {"domain": [-22.8, 479.2], "nice": false, "zero": false}, "axis": null},
     "y": {"field": "y", "type": "quantitative", "scale": {"domain": [0, 2], "nice": false, "zero": false}, "axis": null},
     "shape": {"field": "kind", "type": "nominal", "scale": {"domain": ["UU","AuAu","UUint","AuAuint","lim"], "range": ["circle","square","circle","square","triangle-up"]}, "legend": null},
     "fill": {"field": "kind", "type": "nominal", "scale": {"domain": ["UU","AuAu","UUint","AuAuint","lim"], "range": ["#ec1c24","#2e3a94","#ffffff","#ffffff","#ec1c24"]}, "legend": null},
     "stroke": {"field": "kind", "type": "nominal", "scale": {"domain": ["UU","AuAu","UUint","AuAuint","lim"], "range": ["#ec1c24","#2e3a94","#ec1c24","#3947a5","#ec1c24"]}, "legend": null},
     "size": {"field": "kind", "type": "nominal", "scale": {"type": "ordinal", "domain": ["UU","AuAu","UUint","AuAuint","lim"], "range": [160,140,130,70,150]}, "legend": null}}},
   {"data": {"name": "txt"}, "transform": [{"filter": "datum.panel==='b' && datum.role==='lab'"}],
    "mark": {"type": "text", "fontWeight": "bold", "align": "left", "baseline": "middle", "color": "#1a1a1a", "fontSize": 22},
    "encoding": {
     "x": {"field": "x", "type": "quantitative", "scale": {"domain": [-22.8, 479.2], "nice": false, "zero": false}, "axis": null},
     "y": {"field": "y", "type": "quantitative", "scale": {"domain": [0, 2], "nice": false, "zero": false}, "axis": null},
     "text": {"field": "t"}}},
   {"data": {"name": "txt"}, "transform": [{"filter": "datum.panel==='b' && datum.role==='ups'"}],
    "mark": {"type": "text", "font": "DejaVu Serif", "fontSize": 22, "align": "left", "baseline": "middle", "color": "#1a1a1a"},
    "encoding": {
     "x": {"field": "x", "type": "quantitative", "scale": {"domain": [-22.8, 479.2], "nice": false, "zero": false}, "axis": null},
     "y": {"field": "y", "type": "quantitative", "scale": {"domain": [0, 2], "nice": false, "zero": false}, "axis": null},
     "text": {"field": "t"}}},
   {"data": {"name": "txt"}, "transform": [{"filter": "datum.panel==='b' && (datum.role==='leg' || datum.role==='ax' || datum.role==='axsub')"}],
    "mark": {"type": "text", "align": "left", "baseline": "middle", "color": "#1a1a1a"},
    "encoding": {
     "x": {"field": "x", "type": "quantitative", "scale": {"domain": [-22.8, 479.2], "nice": false, "zero": false}, "axis": null},
     "y": {"field": "y", "type": "quantitative", "scale": {"domain": [0, 2], "nice": false, "zero": false}, "axis": null},
     "text": {"field": "t"},
     "size": {"field": "role", "type": "nominal", "scale": {"type": "ordinal", "domain": ["leg","ax","axsub"], "range": [21,26,17]}, "legend": null}}}
  ]
 }
]
}
